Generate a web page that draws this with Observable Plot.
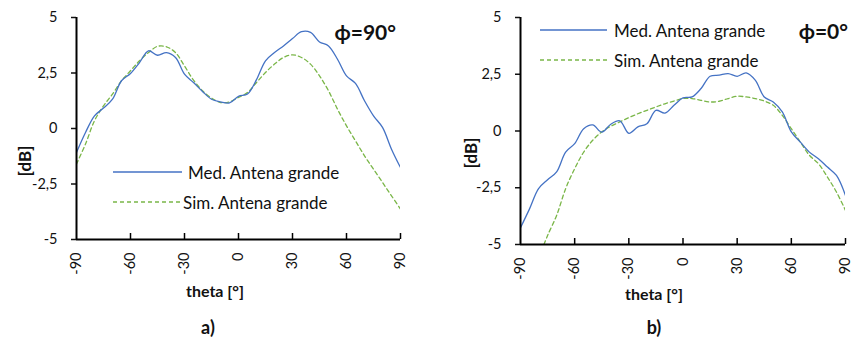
<!DOCTYPE html>
<html><head><meta charset="utf-8">
<script src="https://cdn.jsdelivr.net/npm/d3@7"></script>
<script src="https://cdn.jsdelivr.net/npm/@observablehq/plot@0.6"></script>
<style>
body{margin:0;background:#fff;}
#wrap{position:relative;width:853px;height:340px;font-family:Lato,"Open Sans",sans-serif;}
#wrap > div, #wrap > svg{position:absolute;top:0;}
</style></head><body>
<div id="wrap"></div>
<script>
const thetaTicks = [-90, -60, -30, 0, 30, 60, 90];
const dbTicks = [-5, -2.5, 0, 2.5, 5];
const theta = [-90,-85,-80,-75,-70,-65,-60,-55,-50,-45,-40,-35,-30,-25,-20,-15,-10,-5,0,5,10,15,20,25,30,35,40,45,50,55,60,65,70,75,80,85,90];
const medA = [-1.08,-0.18,0.57,0.92,1.32,2.15,2.48,2.97,3.5,3.3,3.42,3.2,2.45,2.07,1.67,1.32,1.2,1.15,1.45,1.55,2.2,3.05,3.42,3.72,4.05,4.36,4.33,3.9,3.72,3.12,2.37,2.03,1.25,0.57,0.05,-0.93,-1.76];
const simA = [-1.6,-0.7,0.35,1.02,1.55,2.15,2.6,3.05,3.42,3.7,3.68,3.42,2.82,2.18,1.7,1.37,1.17,1.2,1.4,1.62,2.07,2.52,2.9,3.2,3.32,3.2,2.9,2.37,1.7,0.87,0.12,-0.56,-1.23,-1.83,-2.43,-3.03,-3.63];
const medB = [-4.26,-3.43,-2.54,-2.15,-1.8,-0.93,-0.56,0.1,0.27,-0.05,0.3,0.45,-0.1,0.18,0.32,0.91,0.79,1.13,1.46,1.5,1.87,2.41,2.46,2.53,2.41,2.56,2.24,1.5,1.28,0.84,-0.04,-0.49,-0.93,-1.22,-1.59,-1.96,-2.84];
const thetaSimB = [-77,-75,-70,-65,-60,-55,-50,-45,-40,-35,-30,-25,-20,-15,-10,-5,0,5,10,15,20,25,30,35,40,45,50,55,60,65,70,75,80,85,90];
const simB = [-5,-4.6,-3.72,-2.54,-1.66,-0.93,-0.41,-0.04,0.21,0.4,0.59,0.76,0.91,1.06,1.2,1.32,1.43,1.43,1.35,1.28,1.31,1.43,1.53,1.5,1.43,1.32,1.13,0.69,0.1,-0.49,-1.07,-1.44,-2.03,-2.69,-3.5];

const BLUE = "#4472C4", GREEN = "#7AB648";
const fmt = d => String(d).replace(".", ",");

function panel(med, simT, sim, o) {
  const plotH = o.height - o.mt - o.mb;
  return Plot.plot({
    width: o.width, height: o.height,
    marginLeft: o.ml, marginRight: o.mr, marginTop: o.mt, marginBottom: o.mb,
    x: {domain: [-90, 90]},
    y: {domain: [-5, 5]},
    style: {fontFamily: "Lato, 'Open Sans', sans-serif", fontSize: "14px", color: "#111", background: "transparent"},
    marks: [
      Plot.axisY({ticks: dbTicks, tickFormat: fmt, tickSize: 5, tickPadding: 14, strokeWidth: 1.5, label: null, fontSize: 14.5}),
      Plot.axisX({ticks: thetaTicks, tickFormat: fmt, tickSize: 0, tickPadding: 13, tickRotate: -90, label: null, fontSize: 14.5}),
      Plot.tickX(thetaTicks.slice(1), {x: d => d, insetTop: plotH - 6, stroke: "#000", strokeWidth: 1.5}),
      Plot.line(simT.map((t, i) => ({t, v: sim[i]})), {x: "t", y: "v", stroke: GREEN, strokeWidth: 1.3, strokeDasharray: "4,3", curve: "catmull-rom", clip: true}),
      Plot.line(theta.map((t, i) => ({t, v: med[i]})), {x: "t", y: "v", stroke: BLUE, strokeWidth: 1.3, curve: "catmull-rom", clip: true}),
      Plot.ruleX([-90], {stroke: "#000", strokeWidth: 2}),
      Plot.ruleY([-5], {stroke: "#000", strokeWidth: 2})
    ]
  });
}

const wrap = document.getElementById("wrap");
const a = panel(medA, theta, simA, {width: 425, height: 340, ml: 76, mr: 25, mt: 17, mb: 101});
const da = document.createElement("div"); da.style.left = "0px"; da.appendChild(a); wrap.appendChild(da);
const b = panel(medB, thetaSimB, simB, {width: 428, height: 340, ml: 95, mr: 8, mt: 17, mb: 96});
const db = document.createElement("div"); db.style.left = "425px"; db.appendChild(b); wrap.appendChild(db);

// overlay texts and legends
const ns = "http://www.w3.org/2000/svg";
const ov = document.createElementNS(ns, "svg");
ov.setAttribute("width", 853); ov.setAttribute("height", 340);
ov.style.left = "0px"; ov.style.fontFamily = "Lato, 'Open Sans', sans-serif";
wrap.appendChild(ov);
function txt(s, x, y, opts = {}) {
  const t = document.createElementNS(ns, "text");
  t.textContent = s;
  t.setAttribute("x", x); t.setAttribute("y", y);
  t.setAttribute("font-size", opts.size || 15);
  t.setAttribute("font-weight", opts.weight || "normal");
  t.setAttribute("text-anchor", opts.anchor || "start");
  t.setAttribute("dominant-baseline", "central");
  t.setAttribute("fill", "#111");
  if (opts.rotate) t.setAttribute("transform", `rotate(-90 ${x} ${y})`);
  ov.appendChild(t);
}
function lin(x1, x2, y, color, dash) {
  const l = document.createElementNS(ns, "line");
  l.setAttribute("x1", x1); l.setAttribute("x2", x2); l.setAttribute("y1", y); l.setAttribute("y2", y);
  l.setAttribute("stroke", color); l.setAttribute("stroke-width", 1.3);
  if (dash) l.setAttribute("stroke-dasharray", dash);
  ov.appendChild(l);
}
const seriesNames = ["Med. Antena grande", "Sim. Antena grande"];
// panel a
txt("[dB]", 24, 161, {size: 17, weight: "bold", anchor: "middle", rotate: true});
txt("theta [°]", 215, 290, {size: 16, weight: "bold", anchor: "middle"});
txt("a)", 208, 327, {size: 18, weight: "bold", anchor: "middle"});
txt("ϕ=90°", 396, 31, {size: 21, weight: "bold", anchor: "end"});
lin(113, 182, 172, BLUE); txt(seriesNames[0], 188, 172, {size: 17});
lin(113, 182, 202, GREEN, "4,3"); txt(seriesNames[1], 183, 202, {size: 17});
// panel b
txt("[dB]", 470, 153, {size: 17, weight: "bold", anchor: "middle", rotate: true});
txt("theta [°]", 654, 293, {size: 16, weight: "bold", anchor: "middle"});
txt("b)", 654, 327, {size: 18, weight: "bold", anchor: "middle"});
txt("ϕ=0°", 848, 30, {size: 21, weight: "bold", anchor: "end"});
lin(540, 607, 30, BLUE); txt(seriesNames[0], 614, 30, {size: 17});
lin(540, 607, 60, GREEN, "4,3"); txt(seriesNames[1], 614, 60, {size: 17});
</script>
</body></html>
